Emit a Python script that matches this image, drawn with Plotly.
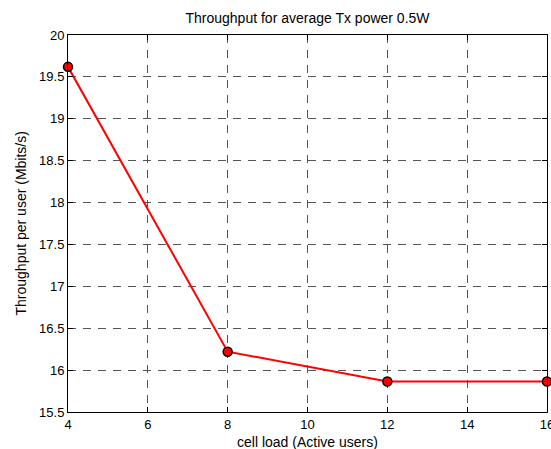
import plotly.graph_objects as go

cell_load = [4, 8, 12, 16]
throughput = [19.62, 16.22, 15.865, 15.865]
x_ticks = [4, 6, 8, 10, 12, 14, 16]
y_ticks = [15.5, 16, 16.5, 17, 17.5, 18, 18.5, 19, 19.5, 20]
y_tick_labels = ["15.5", "16", "16.5", "17", "17.5", "18", "18.5", "19", "19.5", "20"]

FAM = "Liberation Sans, Arial, sans-serif"

W, H = 551, 449
L, T, R, B = 68, 35, 4, 37

fig = go.Figure()
fig.add_trace(go.Scatter(
    x=cell_load, y=throughput, mode="lines+markers",
    line=dict(color="#ff0000", width=2),
    marker=dict(color="#ff0000", size=9, line=dict(color="black", width=1.5)),
    showlegend=False, cliponaxis=False,
))

grid = dict(showgrid=True, gridcolor="#555555", griddash="8px,7px", gridwidth=1)

fig.update_layout(
    width=W, height=H,
    margin=dict(l=L, r=R, t=T, b=B, autoexpand=False),
    paper_bgcolor="white", plot_bgcolor="white",
    font=dict(family=FAM, size=13, color="black"),
    title=dict(text="Throughput for average Tx power 0.5W", x=0.5, xref="paper",
               xanchor="center", y=1 - 18 / H, yanchor="middle",
               font=dict(family=FAM, size=14, color="black")),
    xaxis=dict(range=[4, 16], tickvals=x_ticks, ticks="inside", ticklen=5,
               tickcolor="black", showline=True, linecolor="black", linewidth=1,
               mirror="ticks", zeroline=False, ticklabeloverflow="allow",
               automargin=False,
               tickfont=dict(family=FAM, size=13, color="black"), **grid),
    yaxis=dict(range=[15.5, 20], tickvals=y_ticks, ticktext=y_tick_labels,
               ticks="inside", ticklen=5, tickcolor="black", showline=True,
               linecolor="black", linewidth=1, mirror="ticks", zeroline=False,
               ticklabeloverflow="allow", automargin=False,
               tickfont=dict(family=FAM, size=13, color="black"), **grid),
    annotations=[
        dict(text="cell load (Active users)", xref="paper", yref="paper",
             x=0.5, y=0, xanchor="center", yanchor="middle", yshift=-30,
             showarrow=False, font=dict(family=FAM, size=14, color="black")),
        dict(text="Throughput per user (Mbits/s)", xref="paper", yref="paper",
             x=0, y=0.5, xanchor="center", yanchor="middle", xshift=-48,
             textangle=-90, showarrow=False,
             font=dict(family=FAM, size=14, color="black")),
    ],
)

post = ("document.body.style.margin='0';"
        "document.documentElement.style.overflow='hidden';"
        "document.body.style.overflow='hidden';")

fig.write_html("out.html", post_script=post, config={"displayModeBar": False})
